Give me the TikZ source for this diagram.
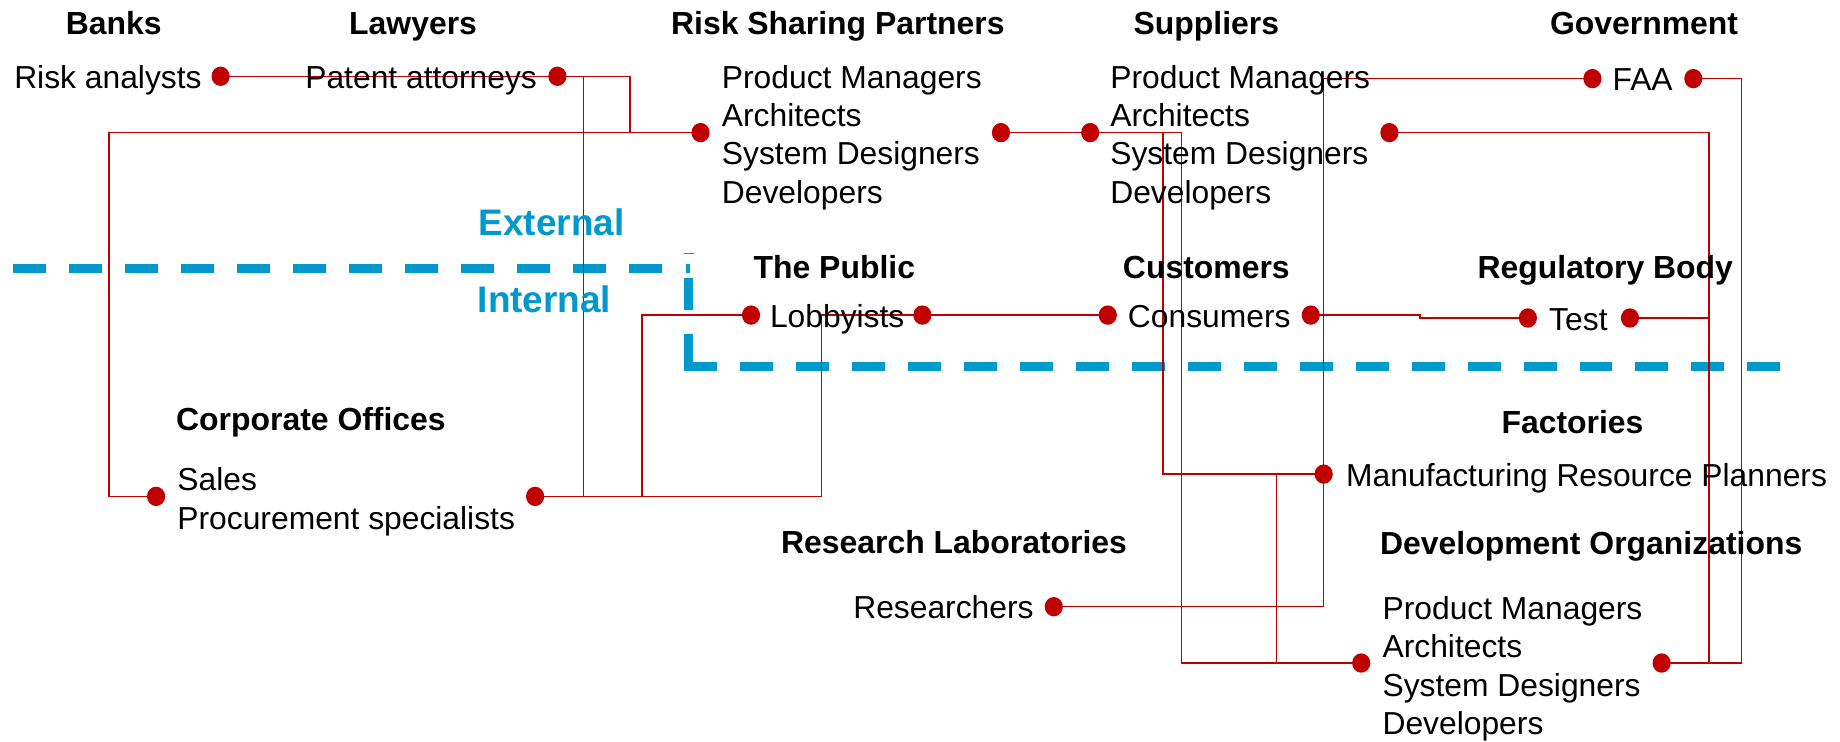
\documentclass[tikz,border=0pt]{standalone}
\usepackage{fontspec}
\setmainfont{Liberation Sans}
\usetikzlibrary{backgrounds,shapes.geometric}
\definecolor{rd}{HTML}{C00000}
\definecolor{bl}{HTML}{0099CC}
\tikzset{
 hdr/.style={font=\fontsize{27.2}{32}\selectfont\bfseries, anchor=base, inner sep=0pt},
 itm/.style={font=\fontsize{27.1}{32.7}\selectfont, anchor=base west, inner sep=0pt},
 itme/.style={itm, anchor=base east},
 reddot/.style={ellipse, fill=rd, minimum width=15.5pt, minimum height=16.5pt, inner sep=0pt},
 conn/.style={draw=rd, line width=1.2pt},
 zonebase/.style={draw=bl, line width=7.4pt},
 zone/.style={zonebase, dash pattern=on 28.1pt off 19.6pt},
 zlbl/.style={font=\fontsize{31.5}{36}\selectfont\bfseries, text=bl, anchor=base, inner sep=0pt},
}
\begin{document}
\begin{tikzpicture}[x=1pt,y=-1pt]
\useasboundingbox (0,0) rectangle (1568,632);

% headers
\node[hdr] (hBanks) at (97,29.5) {Banks};
\node[hdr] (hLaw) at (352,29.5) {Lawyers};
\node[hdr] (hRSP) at (714,29.5) {Risk Sharing Partners};
\node[hdr] (hSup) at (1028,29.5) {Suppliers};
\node[hdr] (hGov) at (1401,29.5) {Government};
\node[hdr] (hPub) at (711,237.5) {The Public};
\node[hdr] (hCus) at (1028,237.5) {Customers};
\node[hdr] (hReg) at (1368,237.5) {Regulatory Body};
\node[hdr] (hCorp) at (265,366.5) {Corporate Offices};
\node[hdr] (hFac) at (1340,369.5) {Factories};
\node[hdr] (hRes) at (813,471.5) {Research Laboratories};
\node[hdr] (hDev) at (1356,472.5) {Development Organizations};

% zone labels
\node[zlbl] (ext) at (470,201) {External};
\node[zlbl] (int) at (464,266) {Internal};

% items
\node[itme] (tRA) at (172,75) {Risk analysts};
\node[itm] (tPA) at (260,75) {Patent attorneys};
\node[itm] (tR1) at (615,75) {Product Managers};
\node[itm] (tR2) at (615,107.7) {Architects};
\node[itm] (tR3) at (615,140.4) {System Designers};
\node[itm] (tR4) at (615,173.1) {Developers};
\node[itm] (tS1) at (946,75) {Product Managers};
\node[itm] (tS2) at (946,107.7) {Architects};
\node[itm] (tS3) at (946,140.4) {System Designers};
\node[itm] (tS4) at (946,173.1) {Developers};
\node[itm] (tFAA) at (1374,77) {FAA};
\node[itm] (tLob) at (656,279) {Lobbyists};
\node[itm] (tCon) at (961,279) {Consumers};
\node[itm] (tTest) at (1320,282) {Test};
\node[itm] (tSal) at (151,418) {Sales};
\node[itm] (tPro) at (151,451) {Procurement specialists};
\node[itm] (tMRP) at (1147,415) {Manufacturing Resource Planners};
\node[itme] (tRes) at (881,527) {Researchers};
\node[itm] (tD1) at (1178,528) {Product Managers};
\node[itm] (tD2) at (1178,560.7) {Architects};
\node[itm] (tD3) at (1178,593.4) {System Designers};
\node[itm] (tD4) at (1178,626.1) {Developers};

% dots
\node[reddot] (ra) at (188,65) {};
\node[reddot] (pa) at (475,65) {};
\node[reddot] (rspL) at (597,113) {};
\node[reddot] (rspR) at (853,113) {};
\node[reddot] (supL) at (929,113) {};
\node[reddot] (supR) at (1184,113) {};
\node[reddot] (faaL) at (1357,67) {};
\node[reddot] (faaR) at (1443,67) {};
\node[reddot] (lobL) at (640,268.5) {};
\node[reddot] (lobR) at (786,268.5) {};
\node[reddot] (conL) at (944,268.5) {};
\node[reddot] (conR) at (1117,268.5) {};
\node[reddot] (testL) at (1302,271) {};
\node[reddot] (testR) at (1389,271) {};
\node[reddot] (sales) at (133,423) {};
\node[reddot] (proc) at (456,423) {};
\node[reddot] (mrp) at (1128,404) {};
\node[reddot] (res) at (898,517) {};
\node[reddot] (devL) at (1160,565) {};
\node[reddot] (devR) at (1416,565) {};

% junction columns
\coordinate (c537) at (537,0);
\coordinate (c497) at (497,0);
\coordinate (c93) at (93,0);
\coordinate (c547) at (547,0);
\coordinate (c700) at (700,0);
\coordinate (c991) at (991,0);
\coordinate (c1007) at (1007,0);
\coordinate (c1456) at (1456.5,0);
\coordinate (c1088) at (1088,0);
\coordinate (c1483) at (1484,0);
\coordinate (c1210) at (1210,0);

% boundary line
\coordinate (zA) at (11,229);
\coordinate (zB) at (564,229);
\coordinate (zC) at (586.5,312.3);
\coordinate (zC2) at (586.5,284.6);
\coordinate (zD1) at (586.5,264.1);
\coordinate (zD2) at (586.5,236.9);
\coordinate (zD3) at (586.5,232.6);
\coordinate (zD4) at (586.5,225);
\coordinate (zT1) at (583,215.6);
\coordinate (zT2) at (591,215.6);
\coordinate (zE) at (1521,312.3);

\begin{scope}[on background layer]
\draw[zone] (zA) -- (zB);
\draw[zonebase] (zC) -- (zC2);
\draw[zonebase] (zD1) -- (zD2);
\draw[draw=bl, line width=3.5pt] (zD3) -- (zD4);
\draw[draw=bl, line width=0.8pt] (zT1) -- (zT2);
\draw[zone] ([xshift=-3.7pt]zC) -- (zE);

\draw[conn] (ra.center) -- (ra.center -| c537) |- (rspL.center);
\draw[conn] (sales.center) -- (sales.center -| c93) |- (rspL.center);
\draw[conn] (pa.center) -- (pa.center -| c497) |- (proc.center);
\draw[conn] (proc.center) -- (proc.center -| c547) |- (lobL.center);
\draw[conn] (proc.center) -- (proc.center -| c700) |- (lobR.center);
\draw[conn] (lobR.center) -- (conL.center);
\draw[conn] (rspR.center) -- (supL.center);
\draw[conn] (supL.center) -- (supL.center -| c991) |- (mrp.center);
\draw[conn] (supL.center) -- (supL.center -| c1007) |- (devL.center);
\draw[conn] (supR.center) -- (supR.center -| c1456) |- (devR.center);
\draw[conn] (faaL.center) -| (mrp.center);
\draw[conn] (mrp.center) |- (res.center);
\draw[conn] (mrp.center) -- (mrp.center -| c1088) |- (devL.center);
\draw[conn] (faaR.center) -- (faaR.center -| c1483) |- (devR.center);
\draw[conn] (testR.center) -- (testR.center -| c1456);
\draw[conn] (conR.center) -- (conR.center -| c1210) -- (c1210 |- testL.center) -- (testL.center);
\end{scope}
\end{tikzpicture}
\end{document}
